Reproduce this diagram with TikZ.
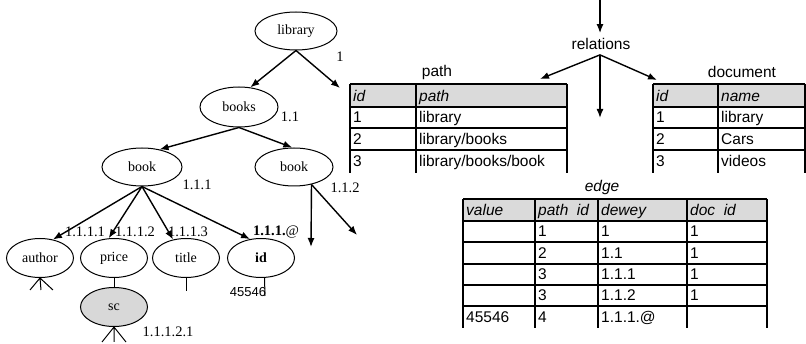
\documentclass[tikz,border=0pt]{standalone}
\usepackage{fontspec}
\setmainfont{Liberation Serif}
\setsansfont{Liberation Sans}
\usetikzlibrary{shapes.geometric,arrows.meta}

\definecolor{headgray}{RGB}{218,218,218}
\definecolor{scgray}{RGB}{216,216,216}

\tikzset{
  elem/.style={draw,ellipse,line width=1pt,minimum width=67,minimum height=39,
    inner sep=0pt,font=\fontsize{14}{16}\selectfont},
  dewey/.style={inner sep=0pt,font=\fontsize{14.5}{16}\selectfont},
  tarrow/.style={-{Latex[length=9pt,width=7pt]},line width=1.4pt},
  twig/.style={line width=1pt},
  sans/.style={inner sep=0pt,font=\sffamily\fontsize{15.5}{17}\selectfont},
  cell/.style={sans,anchor=west,text height=11pt,text depth=0pt},
  headcell/.style={cell,font=\sffamily\itshape\fontsize{15.5}{17}\selectfont},
  tabline/.style={line width=1.6pt}
}

\begin{document}
\begin{tikzpicture}[x=1pt,y=-1pt]

\useasboundingbox (0,0) rectangle (806,344);

% Element tree
\node[elem,minimum width=82,minimum height=38] (lib) at (296,31) {library};
\node[elem,minimum width=78,minimum height=40] (books) at (239,107) {books};
\node[elem,minimum width=80,minimum height=38] (bookA) at (142,167) {book};
\node[elem,minimum width=78,minimum height=38] (bookB) at (294,167) {book};
\node[elem] (author) at (40,258) {author};
\node[elem] (price) at (114,258) {price};
\node[elem] (title) at (186,258) {title};
\node[elem,font=\bfseries\fontsize{14}{16}\selectfont] (idn) at (261,258) {id};
\node[elem,fill=scgray] (sc) at (114,307) {sc};

% Dewey numbers
\node[dewey] (dLib) at (340,57) {1};
\node[dewey] (dBooks) at (290,117) {1.1};
\node[dewey] (dBookA) at (197,185) {1.1.1};
\node[dewey] (dBookB) at (345,188) {1.1.2};
\node[dewey] (dAuthor) at (85,232) {1.1.1.1};
\node[dewey] (dPrice) at (135,232) {1.1.1.2};
\node[dewey] (dTitle) at (188,232) {1.1.1.3};
\node[dewey] (dId) at (276,232) {\textbf{1.1.1.}@};
\node[dewey] (dSc) at (168,332) {1.1.1.2.1};
\node[sans,font=\sffamily\fontsize{13}{15}\selectfont] (val) at (248,292) {45546};

% Free ends
\coordinate (libOut) at (340,88);
\coordinate (bBdown) at (311,247);
\coordinate (bBside) at (357,235);

% Tree arrows
\draw[tarrow] (lib.south) -- (books.60);
\draw[tarrow] (lib.south) -- (libOut);
\draw[tarrow] (books.south) -- (bookA.45);
\draw[tarrow] (books.south) -- (bookB.95);
\draw[tarrow] (bookB.-45) -- (bBdown);
\draw[tarrow] (bookB.-45) -- (bBside);
\draw[tarrow] (bookA.south) -- (author.55);
\draw[tarrow] (bookA.south) -- (price.105);
\draw[tarrow] (bookA.south) -- (title.125);
\draw[tarrow] (bookA.south) -- (idn.120);

% Leaves
\coordinate (aL) at (30,290);
\coordinate (aM) at (41,290);
\coordinate (aR) at (53,290);
\draw[twig] (aL) -- (author.south) -- (aR) (author.south) -- (aM);
\draw[twig] (price) -- (sc);
\coordinate (sL) at (102,342);
\coordinate (sM) at (114,342);
\coordinate (sR) at (126,342);
\draw[twig] (sL) -- (sc.south) -- (sR) (sc.south) -- (sM);
\coordinate (tEnd) at (186,291);
\draw[twig] (title.south) -- (tEnd);
\coordinate (iEnd) at (265,296);
\draw[twig] (idn.-80) -- (iEnd);

% Relations
\coordinate (relIn) at (600,0);
\node[sans,inner sep=5pt] (rel) at (601,44) {relations};
\coordinate (toPath) at (540,79);
\coordinate (toEdge) at (600,118);
\coordinate (toDoc) at (657,80);
\draw[tarrow] (relIn) -- (rel.north -| relIn);
\draw[tarrow] (rel.south -| relIn) -- (toPath);
\draw[tarrow] (rel.south -| relIn) -- (toEdge);
\draw[tarrow] (rel.south -| relIn) -- (toDoc);

% Table path
\node[sans] (pathT) at (437,72) {path};
\fill[headgray] (350,84) rectangle (567,107);
\draw[tabline] (350,84) -- (567,84) (350,107) -- (567,107)
  (350,128) -- (567,128) (350,150) -- (567,150);
\draw[tabline] (350,84) -- (350,173) (416,84) -- (416,173) (567,84) -- (567,173);
\node[headcell] (pH1) at (353,96) {id};
\node[headcell] (pH2) at (419,96) {path};
\node[cell] (p11) at (353,117.5) {1};
\node[cell] (p12) at (419,117.5) {library};
\node[cell] (p21) at (353,139) {2};
\node[cell] (p22) at (419,139) {library/books};
\node[cell] (p31) at (353,161.5) {3};
\node[cell] (p32) at (419,161.5) {library/books/book};

% Table document
\node[sans] (docT) at (742,72) {document};
\fill[headgray] (653,84) rectangle (805,107);
\draw[tabline] (653,84) -- (805,84) (653,107) -- (805,107)
  (653,128) -- (805,128) (653,150) -- (805,150);
\draw[tabline] (653,84) -- (653,173) (718,84) -- (718,173) (805,84) -- (805,173);
\node[headcell] (dH1) at (656,96) {id};
\node[headcell] (dH2) at (721,96) {name};
\node[cell] (d11) at (656,117.5) {1};
\node[cell] (d12) at (721,117.5) {library};
\node[cell] (d21) at (656,139) {2};
\node[cell] (d22) at (721,139) {Cars};
\node[cell] (d31) at (656,161.5) {3};
\node[cell] (d32) at (721,161.5) {videos};

% Table edge
\node[sans,font=\sffamily\itshape\fontsize{15.5}{17}\selectfont] (edgeT) at (602,187) {edge};
\fill[headgray] (463,199) rectangle (767,221);
\draw[tabline] (463,199) -- (767,199) (463,221) -- (767,221) (463,242) -- (767,242)
  (463,264) -- (767,264) (463,285) -- (767,285) (463,306) -- (767,306);
\draw[tabline] (463,199) -- (463,328) (535,199) -- (535,328) (598,199) -- (598,328)
  (687,199) -- (687,328) (767,199) -- (767,328);
\node[headcell] (eH1) at (466,210) {value};
\node[headcell] (eH2) at (538,210) {path\ \ id};
\node[headcell] (eH3) at (601,210) {dewey};
\node[headcell] (eH4) at (690,210) {doc\ \ id};
\node[cell] (e12) at (538,231.5) {1};
\node[cell] (e13) at (601,231.5) {1};
\node[cell] (e14) at (690,231.5) {1};
\node[cell] (e22) at (538,253) {2};
\node[cell] (e23) at (601,253) {1.1};
\node[cell] (e24) at (690,253) {1};
\node[cell] (e32) at (538,274.5) {3};
\node[cell] (e33) at (601,274.5) {1.1.1};
\node[cell] (e34) at (690,274.5) {1};
\node[cell] (e42) at (538,295.5) {3};
\node[cell] (e43) at (601,295.5) {1.1.2};
\node[cell] (e44) at (690,295.5) {1};
\node[cell] (e51) at (466,317) {45546};
\node[cell] (e52) at (538,317) {4};
\node[cell] (e53) at (601,317) {1.1.1.@};

\end{tikzpicture}
\end{document}
